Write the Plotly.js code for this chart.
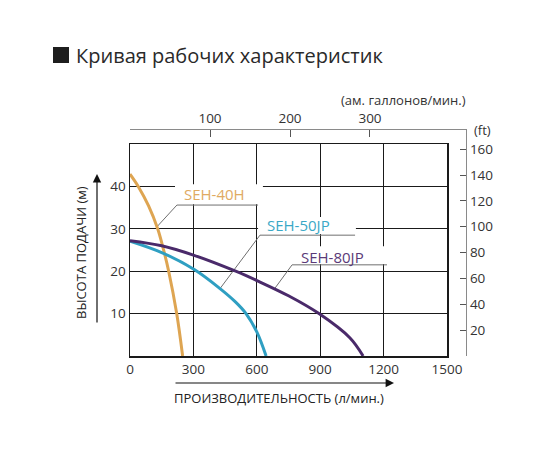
<!DOCTYPE html>
<html>
<head>
<meta charset="utf-8">
<script src="https://cdn.plot.ly/plotly-3.0.1.min.js"></script>
<style>
  html, body { margin: 0; padding: 0; background: #fff; }
  #chart { width: 550px; height: 450px; }
</style>
</head>
<body>
<div id="chart"></div>
<script>
// pump curves: flow in l/min, head in m
var flow40H = [0, 39, 88, 131, 158, 183, 221, 249];
var head40H = [42.9, 40, 35.4, 30, 25.2, 20, 10, 0];

var flow50JP = [0, 150, 304, 426, 500, 549, 600, 644];
var head50JP = [27.1, 24.4, 20.4, 15.9, 12.7, 10, 5.7, 0];

var flow80JP = [0, 150, 300, 500, 600, 750, 894, 1040, 1103];
var head80JP = [27.2, 26.0, 23.8, 20, 17.8, 14.2, 10, 4.3, 0];

var seriesNames = ['SEH-40H', 'SEH-50JP', 'SEH-80JP'];
var seriesColors = ['#dea552', '#2f9fc2', '#4a2a6a'];
var labelColors = ['#e0aa62', '#3aa8c6', '#5a3a78'];

// tick labels
var flowTicks = [0, 300, 600, 900, 1200, 1500];
var headTicks = [10, 20, 30, 40];
var galTicks = [100, 200, 300];
var ftTicks = [20, 40, 60, 80, 100, 120, 140, 160];

var titleText = 'Кривая рабочих характеристик';
var xTitle = 'ПРОИЗВОДИТЕЛЬНОСТЬ (л/мин.)';
var yTitle = 'ВЫСОТА ПОДАЧИ (м)';
var galTitle = '(ам. галлонов/мин.)';
var ftTitle = '(ft)';

var L_PER_GAL = 3.78541;
var FT_PER_M = 3.28084;

// page pixel -> paper fraction (plot area spans 130..466 x 130..356)
var W = 336, H = 226;
function px(x) { return (x - 130) / W; }
function py(y) { return (356 - y) / H; }

var xDom = 317 / W, yDom = 212 / H;
var font = 'Open Sans, Liberation Sans, sans-serif';

function curve(x, y, i) {
  return {
    x: x, y: y, type: 'scatter', mode: 'lines', name: seriesNames[i],
    line: { color: seriesColors[i], width: 3, shape: 'spline', smoothing: 1 },
    hoverinfo: 'skip', showlegend: false
  };
}

var data = [
  curve(flow40H, head40H, 0),
  curve(flow50JP, head50JP, 1),
  curve(flow80JP, head80JP, 2),
  // holder so the gallons / feet axes get drawn
  { x: [null], y: [null], xaxis: 'x2', yaxis: 'y2', type: 'scatter', mode: 'lines',
    showlegend: false, hoverinfo: 'skip' }
];

var gridCol = '#1a1a1a';
var scaleCol = '#8a8a8a';
var tickFont = { family: font, size: 13.5, color: '#333' };

// label boxes and leader lines, in data units
var boxes = [
  { x0: 213, x1: 629, y0: 35.8, y1: 40.5 },
  { x0: 606, x1: 1069, y0: 28.8, y1: 32.8 },
  { x0: 757, x1: 1230, y0: 21.7, y1: 25.9 }
];
var leaders = [
  [[128, 30.5], [222, 35.6], [606, 35.6]],
  [[426, 15.9], [615, 28.5], [1065, 28.5]],
  [[686, 16.0], [767, 21.5], [1216, 21.5]]
];
var labelPos = [[402, 38.2], [795, 30.9], [956, 23.3]];

var shapes = [];
boxes.forEach(function (b) {
  shapes.push({ type: 'rect', xref: 'x', yref: 'y', x0: b.x0, x1: b.x1, y0: b.y0, y1: b.y1,
    fillcolor: '#fff', line: { width: 0 }, layer: 'between' });
});
leaders.forEach(function (p) {
  for (var k = 0; k < p.length - 1; k++) {
    shapes.push({ type: 'line', xref: 'x', yref: 'y', x0: p[k][0], y0: p[k][1], x1: p[k + 1][0], y1: p[k + 1][1],
      line: { color: '#6f6f6f', width: 1 }, layer: 'between' });
  }
});
// title square
shapes.push({ type: 'rect', xref: 'paper', yref: 'paper', x0: px(53), x1: px(69), y0: py(63), y1: py(47),
  fillcolor: '#1e1e1e', line: { width: 0 } });

var annotations = [
  { text: titleText, xref: 'paper', yref: 'paper', x: px(74), y: py(55), xanchor: 'left', yanchor: 'middle',
    showarrow: false, font: { family: font, size: 20, color: '#2a2a2a' } },
  { text: galTitle, xref: 'paper', yref: 'paper', x: px(468), y: py(100), xanchor: 'right', yanchor: 'middle',
    showarrow: false, font: { family: font, size: 13, color: '#333' } },
  { text: ftTitle, xref: 'paper', yref: 'paper', x: px(472), y: py(130), xanchor: 'left', yanchor: 'middle',
    showarrow: false, font: { family: font, size: 13, color: '#333' } },
  { text: yTitle, xref: 'paper', yref: 'paper', x: px(81), y: py(253), xanchor: 'center', yanchor: 'middle',
    textangle: -90, showarrow: false, font: { family: font, size: 13, color: '#222' } },
  { text: xTitle, xref: 'paper', yref: 'paper', x: px(279), y: py(398), xanchor: 'center', yanchor: 'middle',
    showarrow: false, font: { family: font, size: 13, color: '#222' } },
  // axis arrows
  { text: '', xref: 'paper', yref: 'paper', x: px(97), y: py(174), ax: 0, ay: 150,
    showarrow: true, arrowhead: 2, arrowsize: 1.4, arrowwidth: 1.2, arrowcolor: '#111' },
  { text: '', xref: 'paper', yref: 'paper', x: px(394), y: py(383), ax: -220, ay: 0,
    showarrow: true, arrowhead: 2, arrowsize: 1.4, arrowwidth: 1.2, arrowcolor: '#111' }
];
labelPos.forEach(function (p, i) {
  annotations.push({ text: seriesNames[i], xref: 'x', yref: 'y', x: p[0], y: p[1],
    xanchor: 'center', yanchor: 'middle', showarrow: false,
    font: { family: font, size: 15, color: labelColors[i] } });
});

var layout = {
  width: 550, height: 450,
  margin: { l: 130, r: 84, t: 130, b: 94, pad: 0 },
  paper_bgcolor: '#fff', plot_bgcolor: 'rgba(0,0,0,0)',
  showlegend: false,
  font: { family: font, color: '#333' },
  xaxis: {
    domain: [0, xDom], range: [0, 1500], anchor: 'y',
    tickvals: flowTicks, ticks: '', tickfont: tickFont,
    showgrid: true, gridcolor: gridCol, gridwidth: 1,
    showline: true, mirror: true, linecolor: gridCol, linewidth: 1.5,
    zeroline: false, fixedrange: true
  },
  yaxis: {
    domain: [0, yDom], range: [0, 50], anchor: 'x',
    tickvals: headTicks, ticks: '', tickfont: tickFont,
    showgrid: true, gridcolor: gridCol, gridwidth: 1,
    showline: true, mirror: true, linecolor: gridCol, linewidth: 1.5,
    zeroline: false, fixedrange: true
  },
  xaxis2: {
    domain: [0, 1], anchor: 'y2', side: 'top',
    range: [0, 1500 / xDom / L_PER_GAL],
    tickvals: galTicks, ticks: 'inside', ticklen: 7, tickcolor: '#555', tickwidth: 1,
    tickfont: tickFont, showgrid: false, zeroline: false,
    showline: true, linecolor: scaleCol, linewidth: 1.2, fixedrange: true
  },
  yaxis2: {
    domain: [0, 1], anchor: 'x2', side: 'right',
    range: [0, 50 / yDom * FT_PER_M],
    tickvals: ftTicks, ticks: 'inside', ticklen: 6, tickcolor: '#555', tickwidth: 1,
    tickfont: tickFont, showgrid: false, zeroline: false,
    showline: true, linecolor: scaleCol, linewidth: 1.2, fixedrange: true
  },
  shapes: shapes,
  annotations: annotations
};

Plotly.newPlot('chart', data, layout, { displayModeBar: false, staticPlot: true });
</script>
</body>
</html>
